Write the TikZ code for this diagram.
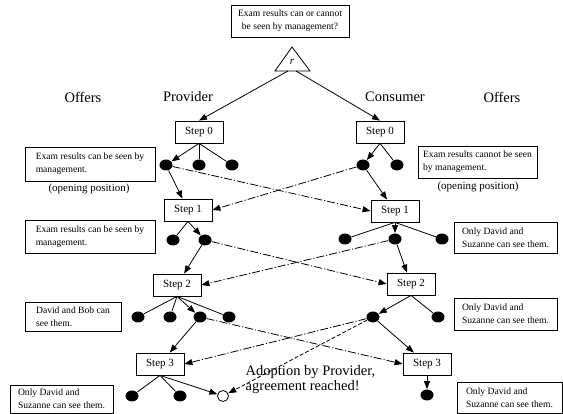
\documentclass[tikz,border=0pt]{standalone}
\usepackage{fontspec}
\setmainfont{Liberation Serif}
\usetikzlibrary{arrows.meta,shapes.geometric}
\begin{document}
\begin{tikzpicture}[x=1pt,y=-1pt,line width=0.8pt,
 stepbox/.style={draw, font=\fontsize{11}{13}\selectfont, minimum width=48pt, minimum height=22pt, inner sep=0pt},
 dot/.style={ellipse, fill=black, minimum width=13pt, minimum height=11pt, inner sep=0pt},
 odot/.style={circle, draw, fill=white, minimum size=11pt, inner sep=0pt},
 offer/.style={draw, font=\fontsize{9.6}{13}\selectfont, align=left, inner sep=0pt},
 head/.style={font=\fontsize{14.5}{15}\selectfont},
 note/.style={font=\fontsize{11}{13}\selectfont},
 arr/.style={-{Triangle[length=8pt,width=6pt]}},
 dd/.style={dash pattern=on 8pt off 2pt on 1.2pt off 2pt},
 dsh/.style={dash pattern=on 4pt off 2pt},
]
\useasboundingbox (0,0) rectangle (563,414);

% top question and triangle
\node[offer, align=center, minimum width=118pt, minimum height=32pt] (q) at (290,21) {Exam results can or cannot\\be seen by management?};
\coordinate (ta) at (292,47);
\coordinate (tbl) at (275,71);
\coordinate (tbr) at (310,71);
\draw (tbl) -- (ta) -- (tbr) -- cycle;
\node[font=\fontsize{11}{13}\selectfont\itshape] (r) at (292,62) {r};
\coordinate (tl) at (288,71);
\coordinate (tr) at (296,71);

% headings
\node[head] (h1) at (83,97) {Offers};
\node[head] (h2) at (188,97) {Provider};
\node[head] (h3) at (395,97) {Consumer};
\node[head] (h4) at (502,97) {Offers};

% steps
\node[stepbox] (s0l) at (199,132) {Step 0};
\node[stepbox] (s0r) at (380,132) {Step 0};
\node[stepbox] (s1l) at (188,210) {Step 1};
\node[stepbox] (s1r) at (395,211) {Step 1};
\node[stepbox] (s2l) at (177,285) {Step 2};
\node[stepbox] (s2r) at (411,284) {Step 2};
\node[stepbox] (s3l) at (160,364) {Step 3};
\node[stepbox] (s3r) at (427,364) {Step 3};

% dots
\node[dot] (d0l1) at (166,165) {};
\node[dot] (d0l2) at (199,165) {};
\node[dot] (d0l3) at (232,165) {};
\node[dot] (d0r1) at (363,165) {};
\node[dot] (d0r2) at (397,165) {};
\node[dot] (d1l1) at (173,240) {};
\node[dot] (d1l2) at (205,240) {};
\node[dot] (d1r1) at (345,239) {};
\node[dot] (d1r2) at (395,239) {};
\node[dot] (d1r3) at (442,239) {};
\node[dot] (d2l1) at (138,317) {};
\node[dot] (d2l2) at (170,317) {};
\node[dot] (d2l3) at (200,317) {};
\node[dot] (d2l4) at (229,317) {};
\node[dot] (d2r1) at (373,317) {};
\node[dot] (d2r2) at (438,317) {};
\node[dot] (d3l1) at (132,396) {};
\node[dot] (d3l2) at (180,396) {};
\node[dot] (d3r1) at (427,395) {};

% offer boxes
\node[offer, minimum width=130pt, minimum height=34pt] (o0l) at (90,164) {Exam results can be seen by\\management.};
\node[note] (op1) at (89,189) {(opening position)};
\node[offer, minimum width=130pt, minimum height=33pt] (o1l) at (90,236.5) {Exam results can be seen by\\management.};
\node[offer, minimum width=96pt, minimum height=29pt] (o2l) at (73,316.5) {David and Bob can\\see them.\hspace*{22pt}};
\node[offer, minimum width=103pt, minimum height=28pt] (o3l) at (61.5,399) {Only David and\\Suzanne can see them.};
\node[offer, minimum width=119pt, minimum height=32pt] (o0r) at (477.5,162) {Exam results cannot be seen\\by management.};
\node[note] (op2) at (478,187) {(opening position)};
\node[offer, minimum width=103pt, minimum height=31pt] (o1r) at (505.5,237.5) {Only David and\\Suzanne can see them.};
\node[offer, minimum width=103pt, minimum height=32pt] (o2r) at (505.5,314) {Only David and\\Suzanne can see them.};
\node[offer, minimum width=105pt, minimum height=31pt] (o3r) at (509.5,397.5) {Only David and\\Suzanne can see them.};

% adoption text
\node[head, anchor=west, align=left] (adopt) at (242,380) {Adoption by Provider,\\agreement reached!};

% triangle to step 0
\draw[arr] (tl) -- (s0l.north);
\draw[arr] (tr) -- (s0r.north);

% step 0 left
\draw[arr] (s0l.south) -- (d0l1);
\draw (s0l.south) -- (d0l2);
\draw (s0l.south) -- (d0l3);
\draw[arr] (d0l1) -- (s1l);
\draw[arr,dd] (d0l1) -- (s1r.west);
% step 0 right
\draw[arr] (s0r.south) -- (d0r1);
\draw (s0r.south) -- (d0r2);
\draw[arr] (d0r1) -- (s1r);
\draw[arr,dd] (d0r1) -- (s1l.east);

% step 1 left
\draw (s1l.south) -- (d1l1);
\draw[arr] (s1l.south) -- (d1l2);
\draw[arr] (d1l2) -- (s2l);
\draw[arr,dd] (d1l2) -- (s2r.west);
% step 1 right
\draw (s1r.south) -- (d1r1);
\draw[arr] (s1r.south) -- (d1r2);
\draw (s1r.south) -- (d1r3);
\draw[arr] (d1r2) -- (s2r);
\draw[arr,dd] (d1r2) -- (s2l.east);

% step 2 left
\draw (s2l.south) -- (d2l1);
\draw (s2l.south) -- (d2l2);
\draw[arr] (s2l.south) -- (d2l3);
\draw (s2l.south) -- (d2l4);
\draw[arr] (d2l3) -- (s3l);
\draw[arr,dd] (d2l3) -- (s3r.west);
% step 2 right
\draw[arr] (s2r.south) -- (d2r1);
\draw (s2r.south) -- (d2r2);
\draw[arr] (d2r1) -- (s3r);
\draw[arr,dd] (d2r1) -- (s3l.east);

% step 3
\node[odot] (oc) at (223,396) {};
\draw (s3l.south) -- (d3l1);
\draw (s3l.south) -- (d3l2);
\draw[arr] (s3l.south) -- (oc);
\draw[arr,dsh] (d2r1) -- (oc);
\draw[arr] (s3r.south) -- (d3r1);
\end{tikzpicture}
\end{document}
